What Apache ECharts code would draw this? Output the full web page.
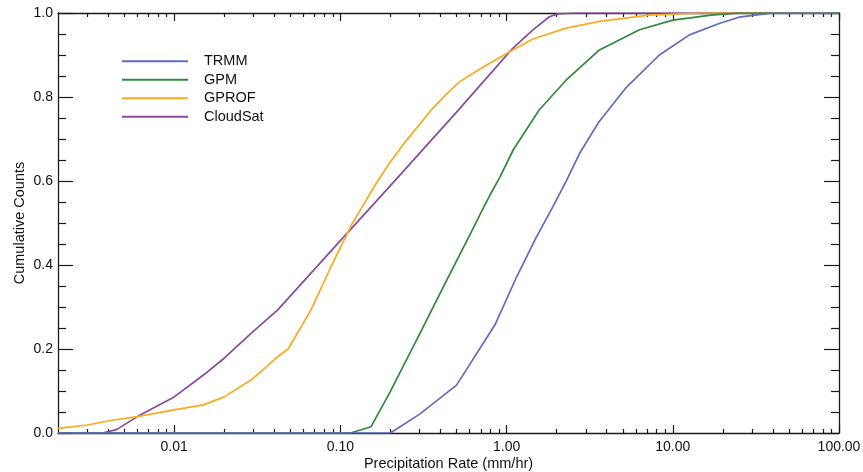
<!DOCTYPE html>
<html>
<head>
<meta charset="utf-8">
<script src="https://cdn.jsdelivr.net/npm/echarts@6.0.0/dist/echarts.min.js"></script>
<style>
html,body{margin:0;padding:0;background:#fff;}
#chart{width:863px;height:472px;}
</style>
</head>
<body>
<div id="chart"></div>
<script>
// ---- data ----
var seriesNames = ['TRMM', 'GPM', 'GPROF', 'CloudSat'];

var trmmX = [0.002, 0.2, 0.3, 0.5, 0.85, 1.15, 1.5, 1.9, 2.3, 2.75, 3.6, 5.2, 8.3, 12.6, 19, 25, 33, 40, 100];
var trmmY = [0, 0, 0.045, 0.114, 0.257, 0.372, 0.464, 0.539, 0.602, 0.666, 0.741, 0.821, 0.9, 0.948, 0.975, 0.99, 0.996, 1.0, 1.0];

var gpmX = [0.002, 0.115, 0.153, 0.2, 0.3, 0.4, 0.5, 0.6, 0.7, 0.8, 0.9, 1.1, 1.57, 2.28, 3.62, 6.3, 10, 17, 25, 100];
var gpmY = [0, 0, 0.015, 0.099, 0.236, 0.334, 0.41, 0.471, 0.524, 0.569, 0.605, 0.675, 0.769, 0.84, 0.912, 0.96, 0.983, 0.995, 1.0, 1.0];

var gprofX = [0.002, 0.003, 0.0043, 0.006, 0.01, 0.015, 0.02, 0.029, 0.036, 0.042, 0.0485, 0.0665, 0.09, 0.118, 0.164, 0.2, 0.248, 0.3, 0.35, 0.43, 0.52, 0.65, 0.787, 1.09, 1.44, 2.28, 3.62, 7.2, 15, 100];
var gprofY = [0.011, 0.019, 0.031, 0.039, 0.055, 0.067, 0.086, 0.126, 0.158, 0.182, 0.2, 0.293, 0.405, 0.499, 0.594, 0.646, 0.695, 0.735, 0.768, 0.805, 0.836, 0.86, 0.88, 0.912, 0.938, 0.964, 0.98, 0.995, 1.0, 1.0];

var cloudsatX = [0.002, 0.0037, 0.0045, 0.006, 0.01, 0.015, 0.02, 0.029, 0.042, 0.1, 0.2, 0.5, 0.906, 1.09, 1.44, 1.81, 2.03, 2.6, 100];
var cloudsatY = [0, 0, 0.008, 0.039, 0.086, 0.138, 0.178, 0.237, 0.293, 0.458, 0.589, 0.764, 0.88, 0.916, 0.96, 0.991, 0.998, 1.0, 1.0];

var xMajorTicks = [0.01, 0.1, 1, 10, 100];
var xMinorTicks = [0.003, 0.004, 0.005, 0.006, 0.007, 0.008, 0.009,
  0.02, 0.03, 0.04, 0.05, 0.06, 0.07, 0.08, 0.09,
  0.2, 0.3, 0.4, 0.5, 0.6, 0.7, 0.8, 0.9,
  2, 3, 4, 5, 6, 7, 8, 9,
  20, 30, 40, 50, 60, 70, 80, 90];

// ---- build ----
function zip(xs, ys) { return xs.map(function (x, i) { return [x, ys[i]]; }); }

var colors = { TRMM: '#5e6cc2', GPM: '#2f8a3c', GPROF: '#fbaa1c', CloudSat: '#8a4a9e' };
var axisColor = '#1a1a1a';
var fontFam = '"Liberation Sans", Arial, Helvetica, sans-serif';

function xAx(pos, tickVals, len, showLine, showLabel) {
  return {
    type: 'log', logBase: 10, min: 0.002, max: 100, position: pos, gridIndex: 0,
    axisLine: { show: showLine, onZero: false, lineStyle: { color: axisColor, width: 1.3 } },
    axisTick: { show: true, inside: true, length: len, customValues: tickVals, lineStyle: { color: axisColor, width: 1.2 } },
    axisLabel: showLabel ? {
      show: true, customValues: xMajorTicks, margin: 7, color: '#111', fontSize: 14, fontFamily: fontFam,
      formatter: function (v) { return Number(v).toFixed(2); }
    } : { show: false },
    splitLine: { show: false }, minorSplitLine: { show: false },
    name: showLabel ? 'Precipitation Rate (mm/hr)' : '',
    nameLocation: 'middle', nameGap: 23, nameMoveOverlap: false,
    nameTextStyle: { color: '#111', fontSize: 14.5, fontFamily: fontFam }
  };
}

function yAx(pos, showLabel) {
  return {
    type: 'value', min: 0, max: 1, interval: 0.2, position: pos, gridIndex: 0,
    axisLine: { show: true, onZero: false, lineStyle: { color: axisColor, width: 1.3 } },
    axisTick: { show: true, inside: true, length: 15, lineStyle: { color: axisColor, width: 1.2 } },
    minorTick: { show: true, splitNumber: 4, length: 8, lineStyle: { color: axisColor, width: 1.2 } },
    axisLabel: showLabel ? {
      show: true, margin: 5, color: '#111', fontSize: 14, fontFamily: fontFam,
      formatter: function (v) { return Number(v).toFixed(1); }
    } : { show: false },
    splitLine: { show: false }, minorSplitLine: { show: false },
    name: showLabel ? 'Cumulative Counts' : '',
    nameLocation: 'middle', nameGap: 31, nameRotate: 90, nameMoveOverlap: false,
    nameTextStyle: { color: '#111', fontSize: 14.5, fontFamily: fontFam }
  };
}

var drawOrder = ['CloudSat', 'GPROF', 'GPM', 'TRMM'];
var dataMap = {
  TRMM: zip(trmmX, trmmY),
  GPM: zip(gpmX, gpmY),
  GPROF: zip(gprofX, gprofY),
  CloudSat: zip(cloudsatX, cloudsatY)
};

var series = drawOrder.map(function (n) {
  return {
    name: n, type: 'line', xAxisIndex: 0, yAxisIndex: 0,
    data: dataMap[n], showSymbol: false, symbol: 'none', smooth: false,
    lineStyle: { color: colors[n], width: 1.7 },
    itemStyle: { color: colors[n] },
    clip: true, animation: false
  };
});

var option = {
  backgroundColor: '#ffffff',
  animation: false,
  grid: { left: 58, right: 24, top: 13, bottom: 39, containLabel: false, outerBoundsMode: 'none' },
  legend: {
    data: seriesNames, orient: 'vertical', left: 122, top: 52, padding: 0,
    icon: 'rect', itemWidth: 66, itemHeight: 2, itemGap: 0,
    textStyle: { color: '#111', fontSize: 14.5, fontFamily: fontFam, lineHeight: 18.5, padding: [0, 0, 0, 11] },
    selectedMode: false
  },
  xAxis: [
    xAx('bottom', xMajorTicks, 8, true, true),
    xAx('bottom', xMinorTicks, 4, false, false),
    xAx('top', xMajorTicks, 8, true, false),
    xAx('top', xMinorTicks, 4, false, false)
  ],
  yAxis: [
    yAx('left', true),
    yAx('right', false)
  ],
  series: series
};

var chart = echarts.init(document.getElementById('chart'), null, { renderer: 'canvas' });
chart.setOption(option);
</script>
</body>
</html>
